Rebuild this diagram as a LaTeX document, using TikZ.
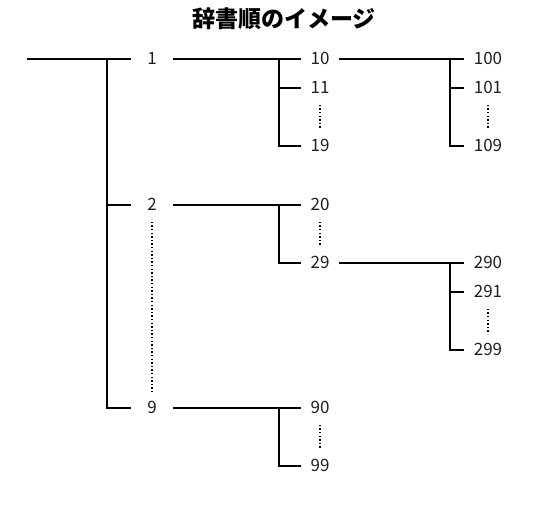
\documentclass[tikz,border=0pt]{standalone}
\usepackage{fontspec}
\newfontfamily\cjk{Noto Sans CJK JP}
\usepackage{tikz}
\usetikzlibrary{positioning,calc}

\begin{document}
\begin{tikzpicture}[x=1pt,y=-1pt,line width=1.7pt,
   	num/.style={text=black!88,font=\cjk\fontsize{17}{17}\selectfont,inner xsep=9pt,inner ysep=0pt,text height=12pt,text depth=0pt,minimum height=32pt},
   	top/.style={num,minimum width=40pt},
   	dots/.style={line width=1.4pt,dash pattern=on 1.4pt off 2.2pt}]
   	\useasboundingbox (0,0) rectangle (550,505);
   	\node (title) at (284,19) {\cjk\bfseries\fontsize{23}{23}\selectfont 辞書順のイメージ};
   	\path   (152,59)  node (n1) [top] {1}
   	        (152,205) node (n2) [top] {2}
   	        (152,408) node (n9) [top] {9}
   	        (320,59)  node (n10) [num] {10}
   	        (320,88)  node (n11) [num] {11}
   	        (320,146) node (n19) [num] {19}
   	        (320,205) node (n20) [num] {20}
   	        (320,263) node (n29) [num] {29}
   	        (320,408) node (n90) [num] {90}
   	        (320,466) node (n99) [num] {99}
   	        (488,59)  node (n100) [num] {100}
   	        (488,88)  node (n101) [num] {101}
   	        (488,146) node (n109) [num] {109}
   	        (488,263) node (n290) [num] {290}
   	        (488,292) node (n291) [num] {291}
   	        (488,350) node (n299) [num] {299};
   	\coordinate (start) at (27,59);
   	\coordinate (b1) at (107,59);
   	\coordinate (b10) at (279,59);
   	\coordinate (b100) at (450,59);
   	\coordinate (b20) at (279,205);
   	\coordinate (b290) at (450,263);
   	\coordinate (b90) at (279,408);
   	% root
   	\draw (start) -- (n1);
   	\draw (b1) |- (n9);
   	\draw (b1 |- n2) -- (n2);
   	% 1
   	\draw (n1) -- (n10);
   	\draw (b10) |- (n19);
   	\draw (b10 |- n11) -- (n11);
   	\draw (n10) -- (n100);
   	\draw (b100) |- (n109);
   	\draw (b100 |- n101) -- (n101);
   	% 2
   	\draw (n2) -- (n20);
   	\draw (b20) |- (n29);
   	\draw (n29) -- (n290);
   	\draw (b290) |- (n299);
   	\draw (b290 |- n291) -- (n291);
   	% 9
   	\draw (n9) -- (n90);
   	\draw (b90) |- (n99);
   	% dots
   	\draw [dots] (n2) -- (n9);
   	\draw [dots] (n11) -- (n19);
   	\draw [dots] (n101) -- (n109);
   	\draw [dots] (n20) -- (n29);
   	\draw [dots] (n291) -- (n299);
   	\draw [dots] (n90) -- (n99);
\end{tikzpicture}
\end{document}
